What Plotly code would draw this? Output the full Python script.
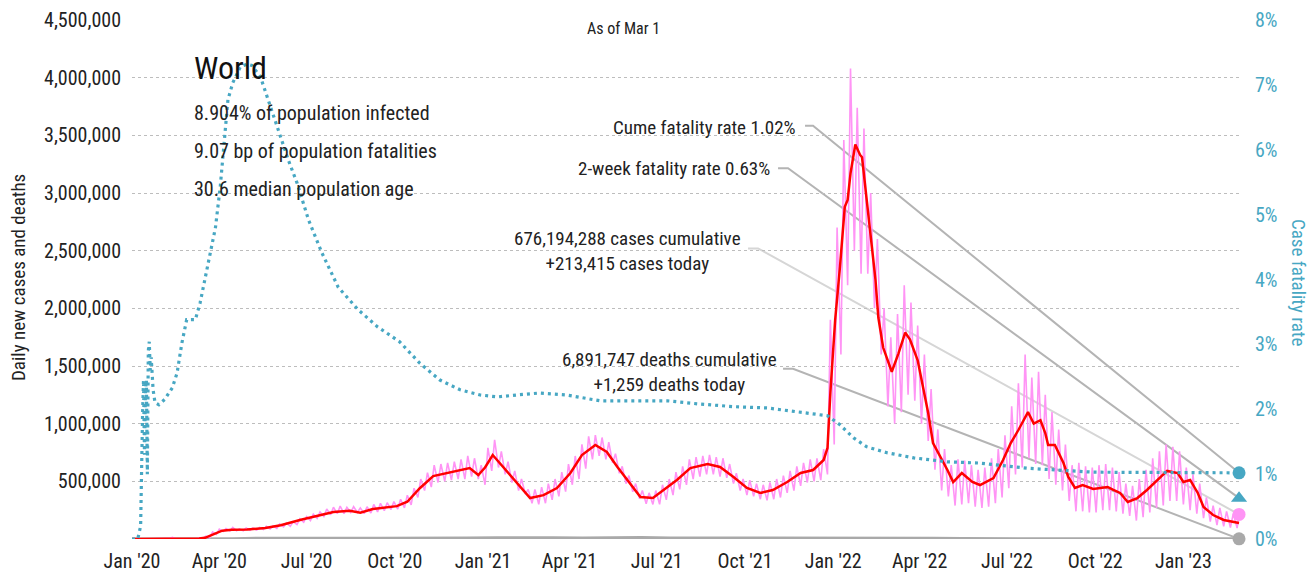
import pandas as pd
import plotly.graph_objects as go

# ---------------- data ----------------
START = pd.Timestamp("2020-01-01")

# 7-day average of daily new cases (day offset from 2020-01-01, value)
red_days = [0, 20, 35, 45, 60, 70, 76, 82, 88, 94, 104, 120, 139, 155, 175, 196, 210, 227, 238, 251,
            276, 287, 300, 314, 328, 340, 352, 361, 368, 376, 391, 405, 415, 429, 443, 457, 469, 483,
            495, 506, 519, 530, 543, 558, 568, 582, 600, 613, 627, 641, 655, 668, 683, 697, 710, 721,
            725, 728, 733, 738, 743, 746, 749, 754, 759, 761, 766, 770, 775, 778, 783, 792, 799, 806,
            811, 819, 825, 830, 835, 843, 850, 856, 865, 876, 884, 898, 908, 916, 924, 934, 940, 947,
            952, 955, 962, 971, 976, 983, 991, 1002, 1017, 1023, 1030, 1038, 1048, 1058, 1069, 1079,
            1090, 1096, 1103, 1111, 1117, 1127, 1138, 1154]
red_vals = [0, 500, 2500, 3000, 2000, 5000, 10000, 30000, 55000, 72000, 80000, 82000, 95000, 120000,
            165000, 208000, 234000, 245000, 228000, 260000, 285000, 323000, 440000, 545000, 572000,
            590000, 615000, 555000, 620000, 728000, 581000, 451000, 355000, 380000, 442000, 572000,
            728000, 815000, 754000, 624000, 485000, 364000, 355000, 451000, 512000, 615000, 650000,
            624000, 538000, 442000, 399000, 425000, 494000, 572000, 598000, 685000, 789000, 1270000,
            1900000, 2360000, 2880000, 2940000, 3170000, 3420000, 3330000, 3310000, 2910000, 2650000,
            2250000, 1920000, 1660000, 1450000, 1610000, 1790000, 1730000, 1550000, 1290000, 1090000,
            832000, 711000, 598000, 494000, 572000, 494000, 468000, 529000, 685000, 832000, 945000,
            1100000, 1000000, 1030000, 919000, 815000, 815000, 659000, 538000, 442000, 468000, 434000,
            451000, 425000, 399000, 321000, 355000, 425000, 512000, 590000, 572000, 494000, 512000,
            399000, 277000, 208000, 165000, 139000]

# daily new cases: weekly high / low (thousands), weeks starting Mondays from 2020-01-06
pink_high = [
    # 2020
    0.5, 1, 2, 3, 4, 15, 2, 3, 3, 8, 25, 62, 85, 90, 100, 88, 95, 95, 100, 110, 115,
    130, 140, 150, 175, 195, 215, 235, 260, 275, 285, 275, 280, 270, 280, 300, 310, 315, 325,
    345, 380, 440, 520, 575, 640, 650, 660, 670, 690, 720, 700, 640,
    # 2021
    790, 860, 760, 670, 590, 520, 430, 430, 450, 480, 520, 580, 650, 720, 820, 890, 900,
    880, 840, 740, 630, 550, 480, 420, 400, 420, 470, 520, 580, 630, 690, 710, 720, 730, 710,
    700, 650, 570, 520, 510, 480, 470, 490, 520, 550, 590, 630, 660, 690, 700, 780, 1900,
    # 2022
    2700, 3460, 4080, 3740, 3560, 3000, 2600, 2000, 1750, 1950, 2200, 2050, 1850,
    1600, 1300, 950, 780, 640, 690, 680, 640, 600, 620, 700, 780, 900, 1150, 1350, 1600, 1400,
    1450, 1250, 1100, 950, 820, 640, 660, 630, 620, 640, 650, 620, 580, 480, 460, 520, 600, 700,
    760, 820, 800, 760,
    # 2023
    620, 560, 480, 360, 290, 270, 240, 220]
pink_low = [
    # 2020
    0, 0.5, 1, 2, 3, 2, 1, 1, 2, 4, 12, 40, 65, 70, 72, 72, 75, 78, 82, 88, 92,
    105, 110, 125, 145, 160, 180, 195, 210, 220, 220, 230, 230, 220, 225, 235, 245, 255, 260,
    270, 295, 360, 420, 450, 490, 500, 510, 520, 520, 540, 520, 470,
    # 2021
    590, 620, 560, 490, 420, 390, 310, 300, 310, 340, 370, 410, 470, 520, 610, 690, 720,
    690, 660, 570, 480, 410, 350, 305, 300, 300, 340, 380, 430, 470, 520, 540, 560, 560, 540,
    530, 480, 420, 380, 370, 345, 335, 345, 360, 400, 420, 460, 490, 500, 510, 560, 820,
    # 2022
    1600, 2200, 2500, 2300, 2300, 2000, 1600, 1150, 1000, 1100, 1250, 1200, 1000,
    850, 600, 420, 370, 290, 300, 310, 280, 270, 280, 310, 360, 440, 560, 620, 700, 650,
    640, 520, 470, 420, 330, 240, 240, 230, 230, 250, 250, 240, 220, 200, 160, 190, 230, 270,
    290, 330, 330, 300,
    # 2023
    250, 220, 180, 150, 120, 110, 100, 95]
pink_week_start = "2020-01-06"

# daily new deaths (monthly, mid-month)
death_months = pd.date_range("2020-01-15", periods=38, freq="MS") + pd.Timedelta(days=14)
death_vals = [0, 100, 2000, 7000, 5000, 5000, 6000, 6000, 5500, 6000, 9500, 11500,
              14000, 11000, 9000, 12000, 12000, 9000, 8500, 10000, 9500, 7500, 7000, 6500,
              9000, 11000, 6500, 3500, 2000, 1500, 2200, 2200, 1600, 1400, 1400, 1600,
              2200, 1600]

# cumulative case fatality rate, % (day offset, value)
cfr_days = [0, 6, 9, 10, 11, 12, 13, 14, 15, 16, 17, 18, 19, 20, 22, 24, 28, 34, 42, 47, 52, 57, 66,
            71, 76, 81, 87, 92, 97, 100, 105, 113, 120, 125, 134, 142, 152, 163, 172, 184, 198, 215,
            236, 256, 279, 300, 321, 342, 363, 381, 401, 425, 453, 488, 523, 558, 592, 627, 662, 697,
            725, 738, 752, 766, 787, 815, 850, 884, 934, 1002, 1072, 1154]
cfr_vals = [0, 0, 0.2, 1.26, 1.9, 2.45, 1.3, 2.3, 2.45, 1.0, 2.9, 3.04, 2.6, 2.8, 2.3, 2.1, 2.07, 2.15,
            2.33, 2.56, 3.02, 3.38, 3.38, 3.64, 4.0, 4.4, 4.8, 5.43, 6.3, 6.77, 7.03, 7.28, 7.32, 7.3,
            7.12, 6.77, 6.3, 5.84, 5.49, 4.92, 4.41, 3.88, 3.53, 3.27, 3.04, 2.71, 2.45, 2.3, 2.22,
            2.19, 2.22, 2.25, 2.22, 2.13, 2.13, 2.13, 2.08, 2.04, 2.02, 1.96, 1.9, 1.76, 1.56, 1.42,
            1.33, 1.25, 1.19, 1.17, 1.09, 1.03, 1.03, 1.02]

last_date = "2023-02-28"
cume_cfr = 1.02
two_week_cfr = 0.63
cases_cum = 676194288
cases_today = 213415
deaths_cum = 6891747
deaths_today = 1259

stats = ["8.904% of population infected", "9.07 bp of population fatalities", "30.6 median population age"]

x_tick_dates = ["2020-01-01", "2020-04-01", "2020-07-01", "2020-10-01", "2021-01-01", "2021-04-01",
                "2021-07-01", "2021-10-01", "2022-01-01", "2022-04-01", "2022-07-01", "2022-10-01",
                "2023-01-01"]
x_tick_text = ["Jan '20", "Apr '20", "Jul '20", "Oct '20", "Jan '21", "Apr '21", "Jul '21", "Oct '21",
               "Jan '22", "Apr '22", "Jul '22", "Oct '22", "Jan '23"]
y_tick_vals = [500000 * i for i in range(1, 10)]
y2_tick_vals = list(range(0, 9))

# ---------------- build ----------------
FONT = "Liberation Sans Narrow, Arial Narrow, Roboto Condensed, Liberation Sans, sans-serif"
TEAL = "#47a7c3"
PINK = "#ff94f5"
RED = "#ff0000"
GRAY = "#a9a9a9"
TXT = "#222222"

OFF = 8  # page body margin in the rendered page
L, R, T, B = 132 - OFF, 1240 - OFF, 20 - OFF, 539 - OFF
W, H = 1315 - OFF, 582 - OFF


def days_to_dates(days):
    return [START + pd.Timedelta(days=int(v)) for v in days]


red_x = days_to_dates(red_days)
cfr_x = days_to_dates(cfr_days)

ws = pd.date_range(pink_week_start, periods=len(pink_high), freq="7D")
pink_x = [START]
pink_y = [0]
for w, h, l in zip(ws, pink_high, pink_low):
    pink_x += [w + pd.Timedelta(days=2), w + pd.Timedelta(days=6)]
    pink_y += [h * 1000, l * 1000]
pink_x.append(pd.Timestamp(last_date))
pink_y.append(cases_today)

death_x = [START] + list(death_months) + [pd.Timestamp(last_date)]
death_y = [0] + death_vals[:-1] + [deaths_today]

fig = go.Figure()
fig.add_trace(go.Scatter(x=death_x, y=death_y, mode="lines", line=dict(color=GRAY, width=3),
                         cliponaxis=False, hoverinfo="skip"))
fig.add_trace(go.Scatter(x=pink_x, y=pink_y, mode="lines", line=dict(color=PINK, width=1.6),
                         hoverinfo="skip"))
fig.add_trace(go.Scatter(x=red_x, y=red_vals, mode="lines", line=dict(color=RED, width=2.5),
                         hoverinfo="skip"))
fig.add_trace(go.Scatter(x=cfr_x, y=cfr_vals, mode="lines", yaxis="y2",
                         line=dict(color=TEAL, width=3.2, dash="3px,4px"), hoverinfo="skip"))
# end markers
fig.add_trace(go.Scatter(x=[last_date], y=[deaths_today], mode="markers", cliponaxis=False,
                         marker=dict(color=GRAY, size=13), hoverinfo="skip"))
fig.add_trace(go.Scatter(x=[last_date], y=[cases_today], mode="markers", cliponaxis=False,
                         marker=dict(color=PINK, size=13), hoverinfo="skip"))
fig.add_trace(go.Scatter(x=[last_date], y=[two_week_cfr], mode="markers", yaxis="y2",
                         cliponaxis=False,
                         marker=dict(color=TEAL, size=14, symbol="triangle-up"), hoverinfo="skip"))
fig.add_trace(go.Scatter(x=[last_date], y=[cume_cfr], mode="markers", yaxis="y2", cliponaxis=False,
                         marker=dict(color=TEAL, size=13), hoverinfo="skip"))


# positions below are given in screenshot pixels
def px(xp):
    return (xp - OFF - L) / (R - L)


def py(yp):
    return (B - (yp - OFF)) / (B - T)


ann = []
ann.append(dict(text="World", x=px(192), y=py(68), xref="paper", yref="paper", xanchor="left",
                yanchor="middle", showarrow=False, font=dict(size=32, color="#111")))
for i, s in enumerate(stats):
    ann.append(dict(text=s, x=px(192), y=py(113 + 38 * i), xref="paper", yref="paper",
                    xanchor="left", yanchor="middle", showarrow=False, font=dict(size=20, color=TXT)))
ann.append(dict(text="As of Mar 1", x=px(623), y=py(28), xref="paper", yref="paper",
                xanchor="center", yanchor="middle", showarrow=False, font=dict(size=16, color=TXT)))
ann.append(dict(text=f"Cume fatality rate {cume_cfr:.2f}%", x=px(798), y=py(127), xref="paper",
                yref="paper", xanchor="right", yanchor="middle", showarrow=False,
                font=dict(size=19, color=TXT)))
ann.append(dict(text=f"2-week fatality rate {two_week_cfr:.2f}%", x=px(772), y=py(168), xref="paper",
                yref="paper", xanchor="right", yanchor="middle", showarrow=False,
                font=dict(size=19, color=TXT)))
ann.append(dict(text=f"{cases_cum:,} cases cumulative<br>+{cases_today:,} cases today",
                x=px(627), y=py(251.5), xref="paper", yref="paper", xanchor="center",
                yanchor="middle", align="center", showarrow=False, font=dict(size=19, color=TXT)))
ann.append(dict(text=f"{deaths_cum:,} deaths cumulative<br>+{deaths_today:,} deaths today",
                x=px(669), y=py(371.5), xref="paper", yref="paper", xanchor="center",
                yanchor="middle", align="center", showarrow=False, font=dict(size=19, color=TXT)))
ann.append(dict(text="Daily new cases and deaths", x=px(18), y=py(278), xref="paper", yref="paper",
                xanchor="center", yanchor="middle", textangle=-90, showarrow=False,
                font=dict(size=19, color=TXT)))
ann.append(dict(text="Case fatality rate", x=px(1298), y=py(282), xref="paper", yref="paper",
                xanchor="center", yanchor="middle", textangle=90, showarrow=False,
                font=dict(size=19, color=TEAL)))

# connector lines (anchored at the end markers, offsets in pixels)
connectors = [
    ("y2", cume_cfr, -434, -426, 347, "#b4b4b4"),
    ("y2", two_week_cfr, -461, -451, 330, "#b4b4b4"),
    ("y", cases_today, -491, -481, 266, "#d6d6d6"),
    ("y", deaths_today, -456, -446, 170, "#b4b4b4"),
]
shapes = []
for yref, yv, x0, x1, dy, col in connectors:
    shapes.append(dict(type="path", xref="x", yref=yref, xsizemode="pixel", ysizemode="pixel",
                       xanchor=last_date, yanchor=yv,
                       path=f"M {x0},{dy} L {x1},{dy} L 0,0",
                       line=dict(color=col, width=2), layer="below"))

fig.update_layout(
    width=W, height=H,
    margin=dict(l=L, r=W - R, t=T, b=H - B, autoexpand=False),
    paper_bgcolor="white", plot_bgcolor="white",
    font=dict(family=FONT, size=20, color=TXT),
    showlegend=False,
    annotations=ann,
    shapes=shapes,
    xaxis=dict(type="date", range=["2020-01-01", "2023-03-01"], tickvals=x_tick_dates,
               ticktext=x_tick_text, showgrid=False, zeroline=False, showline=False, ticks="",
               ticklabelstandoff=8, tickfont=dict(size=20, color=TXT)),
    yaxis=dict(range=[0, 4500000], tickvals=y_tick_vals, ticktext=[f"{v:,}" for v in y_tick_vals],
               showgrid=True, gridcolor="#bdbdbd", griddash="dot", gridwidth=1, zeroline=False,
               showline=False, ticks="", ticklabelstandoff=10, tickfont=dict(size=20, color=TXT)),
    yaxis2=dict(range=[0, 8], overlaying="y", side="right", tickvals=y2_tick_vals,
                ticktext=[f"{v}%" for v in y2_tick_vals], showgrid=False, zeroline=False,
                showline=False, ticks="", ticklabelstandoff=14, tickfont=dict(size=20, color=TEAL)),
)

fig.write_html("out.html")
